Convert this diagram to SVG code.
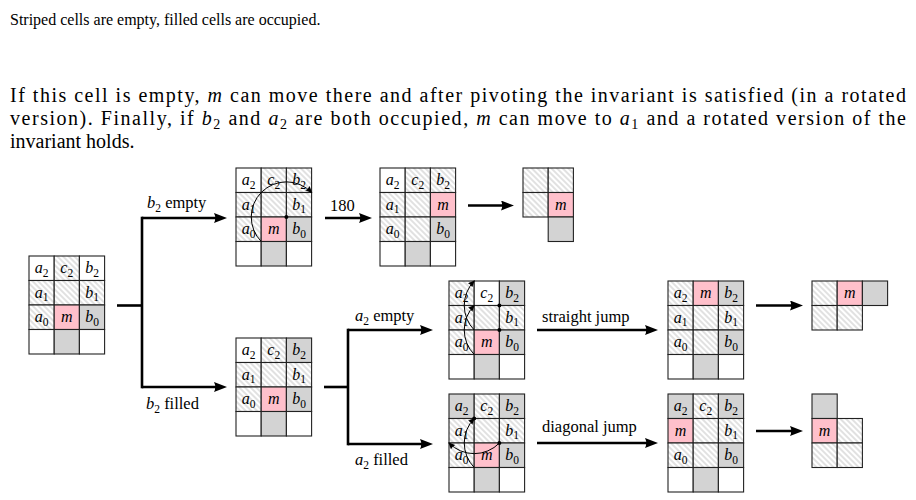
<svg xmlns="http://www.w3.org/2000/svg" xmlns:xlink="http://www.w3.org/1999/xlink" width="916" height="500" viewBox="0 0 916 500">
<defs>
<pattern id="hatch" width="4" height="4" patternUnits="userSpaceOnUse" patternTransform="rotate(-45)">
<rect width="4" height="4" fill="#fff"/>
<line x1="2" y1="0" x2="2" y2="4" stroke="#b4b4b4" stroke-width="0.8"/>
</pattern>
<rect id="cell" width="25.2" height="24.5"/>
<marker id="ah" markerUnits="userSpaceOnUse" viewBox="0 0 13 10" markerWidth="13" markerHeight="10" refX="6" refY="5" orient="auto">
<path d="M0,0 L13,5 L0,10 Q2.5,5 0,0Z" fill="#000"/>
</marker>
<marker id="sa" markerUnits="userSpaceOnUse" viewBox="0 0 7 6" markerWidth="7" markerHeight="6" refX="6" refY="3" orient="auto">
<path d="M0,0 L7,3 L0,6 Q1.5,3 0,0Z" fill="#000"/>
</marker>
</defs>
<style>
.grid{stroke:#222;stroke-width:1.1}
.w{fill:#fff}
.s{fill:url(#hatch)}
.g{fill:#d3d3d3}
.p{fill:#ffc0cb}
.t{font-family:"Liberation Serif","Times New Roman",serif;fill:#000}
.lbl{font-size:16px;text-anchor:middle}
.i{font-style:italic}
.sub{font-size:11.5px}
.body{font-size:20px}
.psub{font-size:14px}
.cap{font-size:16.5px}
.csub{font-size:11.5px}
.arc{fill:none;stroke:#000;stroke-width:1;marker-end:url(#sa)}
.conn{fill:none;stroke:#000;stroke-width:2.6}
.arr{marker-end:url(#ah)}
.dot{fill:#000}
</style>

<g id="text">
<text class="t" font-size="16" x="10" y="25">Striped cells are empty, filled cells are occupied.</text>
<text class="t body" x="10" y="102" textLength="896" lengthAdjust="spacing">If this cell is empty, <tspan class="i">m</tspan> can move there and after pivoting the invariant is satisfied (in a rotated</text>
<text class="t body" x="10" y="125" textLength="896" lengthAdjust="spacing">version). Finally, if <tspan class="i">b</tspan><tspan class="psub" dy="4">2</tspan><tspan dy="-4"> and </tspan><tspan class="i">a</tspan><tspan class="psub" dy="4">2</tspan><tspan dy="-4"> are both occupied, </tspan><tspan class="i">m</tspan> can move to <tspan class="i">a</tspan><tspan class="psub" dy="4">1</tspan><tspan dy="-4"> and a rotated version of the</tspan></text>
<text class="t body" x="10" y="148">invariant holds.</text>
</g>

<g id="grid-start" transform="translate(29,256)">
<g class="grid">
<use href="#cell" class="w" x="0" y="0"/><use href="#cell" class="s" x="25.2" y="0"/><use href="#cell" class="w" x="50.4" y="0"/>
<use href="#cell" class="s" x="0" y="24.5"/><use href="#cell" class="s" x="25.2" y="24.5"/><use href="#cell" class="s" x="50.4" y="24.5"/>
<use href="#cell" class="s" x="0" y="49"/><use href="#cell" class="p" x="25.2" y="49"/><use href="#cell" class="g" x="50.4" y="49"/>
<use href="#cell" class="w" x="0" y="73.5"/><use href="#cell" class="g" x="25.2" y="73.5"/><use href="#cell" class="w" x="50.4" y="73.5"/>
</g>
<g class="t lbl">
<text x="12.6" y="17"><tspan class="i">a</tspan><tspan class="sub" dy="3.5">2</tspan></text>
<text x="37.8" y="17"><tspan class="i">c</tspan><tspan class="sub" dy="3.5">2</tspan></text>
<text x="63" y="17"><tspan class="i">b</tspan><tspan class="sub" dy="3.5">2</tspan></text>
<text x="12.6" y="41.5"><tspan class="i">a</tspan><tspan class="sub" dy="3.5">1</tspan></text>
<text x="63" y="41.5"><tspan class="i">b</tspan><tspan class="sub" dy="3.5">1</tspan></text>
<text x="12.6" y="66"><tspan class="i">a</tspan><tspan class="sub" dy="3.5">0</tspan></text>
<text x="37.8" y="66" class="i">m</text>
<text x="63" y="66"><tspan class="i">b</tspan><tspan class="sub" dy="3.5">0</tspan></text>
</g>
</g>

<g id="grid-b2-empty" transform="translate(236,168)">
<g class="grid">
<use href="#cell" class="w" x="0" y="0"/><use href="#cell" class="s" x="25.2" y="0"/><use href="#cell" class="s" x="50.4" y="0"/>
<use href="#cell" class="s" x="0" y="24.5"/><use href="#cell" class="s" x="25.2" y="24.5"/><use href="#cell" class="s" x="50.4" y="24.5"/>
<use href="#cell" class="s" x="0" y="49"/><use href="#cell" class="p" x="25.2" y="49"/><use href="#cell" class="g" x="50.4" y="49"/>
<use href="#cell" class="w" x="0" y="73.5"/><use href="#cell" class="g" x="25.2" y="73.5"/><use href="#cell" class="w" x="50.4" y="73.5"/>
</g>
<g class="t lbl">
<text x="12.6" y="17"><tspan class="i">a</tspan><tspan class="sub" dy="3.5">2</tspan></text>
<text x="37.8" y="17"><tspan class="i">c</tspan><tspan class="sub" dy="3.5">2</tspan></text>
<text x="63" y="17"><tspan class="i">b</tspan><tspan class="sub" dy="3.5">2</tspan></text>
<text x="12.6" y="41.5"><tspan class="i">a</tspan><tspan class="sub" dy="3.5">1</tspan></text>
<text x="63" y="41.5"><tspan class="i">b</tspan><tspan class="sub" dy="3.5">1</tspan></text>
<text x="12.6" y="66"><tspan class="i">a</tspan><tspan class="sub" dy="3.5">0</tspan></text>
<text x="37.8" y="66" class="i">m</text>
<text x="63" y="66"><tspan class="i">b</tspan><tspan class="sub" dy="3.5">0</tspan></text>
</g>
<path class="arc" d="M25.2,73.5 A35.15,35.15 0 0 1 25.55,24.15 A35.15,35.15 0 0 1 75.6,24.5"/>
<circle class="dot" cx="50.4" cy="49" r="2"/>
</g>

<g id="grid-rotated" transform="translate(380,168)">
<g class="grid">
<use href="#cell" class="w" x="0" y="0"/><use href="#cell" class="s" x="25.2" y="0"/><use href="#cell" class="s" x="50.4" y="0"/>
<use href="#cell" class="s" x="0" y="24.5"/><use href="#cell" class="s" x="25.2" y="24.5"/><use href="#cell" class="p" x="50.4" y="24.5"/>
<use href="#cell" class="s" x="0" y="49"/><use href="#cell" class="s" x="25.2" y="49"/><use href="#cell" class="g" x="50.4" y="49"/>
<use href="#cell" class="w" x="0" y="73.5"/><use href="#cell" class="g" x="25.2" y="73.5"/><use href="#cell" class="w" x="50.4" y="73.5"/>
</g>
<g class="t lbl">
<text x="12.6" y="17"><tspan class="i">a</tspan><tspan class="sub" dy="3.5">2</tspan></text>
<text x="37.8" y="17"><tspan class="i">c</tspan><tspan class="sub" dy="3.5">2</tspan></text>
<text x="63" y="17"><tspan class="i">b</tspan><tspan class="sub" dy="3.5">2</tspan></text>
<text x="12.6" y="41.5"><tspan class="i">a</tspan><tspan class="sub" dy="3.5">1</tspan></text>
<text x="63" y="41.5" class="i">m</text>
<text x="12.6" y="66"><tspan class="i">a</tspan><tspan class="sub" dy="3.5">0</tspan></text>
<text x="63" y="66"><tspan class="i">b</tspan><tspan class="sub" dy="3.5">0</tspan></text>
</g>
</g>

<g id="shape-1" transform="translate(523,168)">
<g class="grid">
<use href="#cell" class="s" x="0" y="0"/><use href="#cell" class="s" x="25.2" y="0"/>
<use href="#cell" class="s" x="0" y="24.5"/><use href="#cell" class="p" x="25.2" y="24.5"/>
<use href="#cell" class="g" x="25.2" y="49"/>
</g>
<text class="t lbl i" x="37.8" y="41.5">m</text>
</g>

<g id="grid-b2-filled" transform="translate(236,338)">
<g class="grid">
<use href="#cell" class="w" x="0" y="0"/><use href="#cell" class="s" x="25.2" y="0"/><use href="#cell" class="g" x="50.4" y="0"/>
<use href="#cell" class="s" x="0" y="24.5"/><use href="#cell" class="s" x="25.2" y="24.5"/><use href="#cell" class="s" x="50.4" y="24.5"/>
<use href="#cell" class="s" x="0" y="49"/><use href="#cell" class="p" x="25.2" y="49"/><use href="#cell" class="g" x="50.4" y="49"/>
<use href="#cell" class="w" x="0" y="73.5"/><use href="#cell" class="g" x="25.2" y="73.5"/><use href="#cell" class="w" x="50.4" y="73.5"/>
</g>
<g class="t lbl">
<text x="12.6" y="17"><tspan class="i">a</tspan><tspan class="sub" dy="3.5">2</tspan></text>
<text x="37.8" y="17"><tspan class="i">c</tspan><tspan class="sub" dy="3.5">2</tspan></text>
<text x="63" y="17"><tspan class="i">b</tspan><tspan class="sub" dy="3.5">2</tspan></text>
<text x="12.6" y="41.5"><tspan class="i">a</tspan><tspan class="sub" dy="3.5">1</tspan></text>
<text x="63" y="41.5"><tspan class="i">b</tspan><tspan class="sub" dy="3.5">1</tspan></text>
<text x="12.6" y="66"><tspan class="i">a</tspan><tspan class="sub" dy="3.5">0</tspan></text>
<text x="37.8" y="66" class="i">m</text>
<text x="63" y="66"><tspan class="i">b</tspan><tspan class="sub" dy="3.5">0</tspan></text>
</g>
</g>

<g id="grid-a2-empty" transform="translate(449,281)">
<g class="grid">
<use href="#cell" class="s" x="0" y="0"/><use href="#cell" class="w" x="25.2" y="0"/><use href="#cell" class="g" x="50.4" y="0"/>
<use href="#cell" class="s" x="0" y="24.5"/><use href="#cell" class="s" x="25.2" y="24.5"/><use href="#cell" class="s" x="50.4" y="24.5"/>
<use href="#cell" class="s" x="0" y="49"/><use href="#cell" class="p" x="25.2" y="49"/><use href="#cell" class="g" x="50.4" y="49"/>
<use href="#cell" class="w" x="0" y="73.5"/><use href="#cell" class="g" x="25.2" y="73.5"/><use href="#cell" class="w" x="50.4" y="73.5"/>
</g>
<g class="t lbl">
<text x="12.6" y="17"><tspan class="i">a</tspan><tspan class="sub" dy="3.5">2</tspan></text>
<text x="37.8" y="17"><tspan class="i">c</tspan><tspan class="sub" dy="3.5">2</tspan></text>
<text x="63" y="17"><tspan class="i">b</tspan><tspan class="sub" dy="3.5">2</tspan></text>
<text x="12.6" y="41.5"><tspan class="i">a</tspan><tspan class="sub" dy="3.5">1</tspan></text>
<text x="63" y="41.5"><tspan class="i">b</tspan><tspan class="sub" dy="3.5">1</tspan></text>
<text x="12.6" y="66"><tspan class="i">a</tspan><tspan class="sub" dy="3.5">0</tspan></text>
<text x="37.8" y="66" class="i">m</text>
<text x="63" y="66"><tspan class="i">b</tspan><tspan class="sub" dy="3.5">0</tspan></text>
</g>
<path class="arc" d="M25.2,73.5 A35.15,35.15 0 0 1 25.2,24.5"/>
<path class="arc" d="M25.2,49 A35.15,35.15 0 0 1 25.2,0"/>
<circle class="dot" cx="50.4" cy="49" r="2"/>
<circle class="dot" cx="50.4" cy="24.5" r="2"/>
</g>

<g id="grid-a2-filled" transform="translate(449,394)">
<g class="grid">
<use href="#cell" class="g" x="0" y="0"/><use href="#cell" class="s" x="25.2" y="0"/><use href="#cell" class="g" x="50.4" y="0"/>
<use href="#cell" class="s" x="0" y="24.5"/><use href="#cell" class="s" x="25.2" y="24.5"/><use href="#cell" class="s" x="50.4" y="24.5"/>
<use href="#cell" class="s" x="0" y="49"/><use href="#cell" class="p" x="25.2" y="49"/><use href="#cell" class="g" x="50.4" y="49"/>
<use href="#cell" class="w" x="0" y="73.5"/><use href="#cell" class="g" x="25.2" y="73.5"/><use href="#cell" class="w" x="50.4" y="73.5"/>
</g>
<g class="t lbl">
<text x="12.6" y="17"><tspan class="i">a</tspan><tspan class="sub" dy="3.5">2</tspan></text>
<text x="37.8" y="17"><tspan class="i">c</tspan><tspan class="sub" dy="3.5">2</tspan></text>
<text x="63" y="17"><tspan class="i">b</tspan><tspan class="sub" dy="3.5">2</tspan></text>
<text x="12.6" y="41.5"><tspan class="i">a</tspan><tspan class="sub" dy="3.5">1</tspan></text>
<text x="63" y="41.5"><tspan class="i">b</tspan><tspan class="sub" dy="3.5">1</tspan></text>
<text x="12.6" y="66"><tspan class="i">a</tspan><tspan class="sub" dy="3.5">0</tspan></text>
<text x="37.8" y="66" class="i">m</text>
<text x="63" y="66"><tspan class="i">b</tspan><tspan class="sub" dy="3.5">0</tspan></text>
</g>
<path class="arc" d="M25.2,73.5 A35.15,35.15 0 0 1 25.2,24.5"/>
<path class="arc" d="M50.4,49 A35.15,35.15 0 0 1 0,49"/>
<circle class="dot" cx="50.4" cy="49" r="2"/>
<circle class="dot" cx="25.2" cy="24.5" r="2"/>
</g>

<g id="grid-straight" transform="translate(668,281)">
<g class="grid">
<use href="#cell" class="s" x="0" y="0"/><use href="#cell" class="p" x="25.2" y="0"/><use href="#cell" class="g" x="50.4" y="0"/>
<use href="#cell" class="s" x="0" y="24.5"/><use href="#cell" class="s" x="25.2" y="24.5"/><use href="#cell" class="s" x="50.4" y="24.5"/>
<use href="#cell" class="s" x="0" y="49"/><use href="#cell" class="s" x="25.2" y="49"/><use href="#cell" class="g" x="50.4" y="49"/>
<use href="#cell" class="w" x="0" y="73.5"/><use href="#cell" class="g" x="25.2" y="73.5"/><use href="#cell" class="w" x="50.4" y="73.5"/>
</g>
<g class="t lbl">
<text x="12.6" y="17"><tspan class="i">a</tspan><tspan class="sub" dy="3.5">2</tspan></text>
<text x="37.8" y="17" class="i">m</text>
<text x="63" y="17"><tspan class="i">b</tspan><tspan class="sub" dy="3.5">2</tspan></text>
<text x="12.6" y="41.5"><tspan class="i">a</tspan><tspan class="sub" dy="3.5">1</tspan></text>
<text x="63" y="41.5"><tspan class="i">b</tspan><tspan class="sub" dy="3.5">1</tspan></text>
<text x="12.6" y="66"><tspan class="i">a</tspan><tspan class="sub" dy="3.5">0</tspan></text>
<text x="63" y="66"><tspan class="i">b</tspan><tspan class="sub" dy="3.5">0</tspan></text>
</g>
</g>

<g id="shape-2" transform="translate(812,281)">
<g class="grid">
<use href="#cell" class="s" x="0" y="0"/><use href="#cell" class="p" x="25.2" y="0"/><use href="#cell" class="g" x="50.4" y="0"/>
<use href="#cell" class="s" x="0" y="24.5"/><use href="#cell" class="s" x="25.2" y="24.5"/>
</g>
<text class="t lbl i" x="37.8" y="17">m</text>
</g>

<g id="grid-diagonal" transform="translate(668,394)">
<g class="grid">
<use href="#cell" class="g" x="0" y="0"/><use href="#cell" class="s" x="25.2" y="0"/><use href="#cell" class="g" x="50.4" y="0"/>
<use href="#cell" class="p" x="0" y="24.5"/><use href="#cell" class="s" x="25.2" y="24.5"/><use href="#cell" class="s" x="50.4" y="24.5"/>
<use href="#cell" class="s" x="0" y="49"/><use href="#cell" class="s" x="25.2" y="49"/><use href="#cell" class="g" x="50.4" y="49"/>
<use href="#cell" class="w" x="0" y="73.5"/><use href="#cell" class="g" x="25.2" y="73.5"/><use href="#cell" class="w" x="50.4" y="73.5"/>
</g>
<g class="t lbl">
<text x="12.6" y="17"><tspan class="i">a</tspan><tspan class="sub" dy="3.5">2</tspan></text>
<text x="37.8" y="17"><tspan class="i">c</tspan><tspan class="sub" dy="3.5">2</tspan></text>
<text x="63" y="17"><tspan class="i">b</tspan><tspan class="sub" dy="3.5">2</tspan></text>
<text x="12.6" y="41.5" class="i">m</text>
<text x="63" y="41.5"><tspan class="i">b</tspan><tspan class="sub" dy="3.5">1</tspan></text>
<text x="12.6" y="66"><tspan class="i">a</tspan><tspan class="sub" dy="3.5">0</tspan></text>
<text x="63" y="66"><tspan class="i">b</tspan><tspan class="sub" dy="3.5">0</tspan></text>
</g>
</g>

<g id="shape-3" transform="translate(812,394)">
<g class="grid">
<use href="#cell" class="g" x="0" y="0"/>
<use href="#cell" class="p" x="0" y="24.5"/><use href="#cell" class="s" x="25.2" y="24.5"/>
<use href="#cell" class="s" x="0" y="49"/><use href="#cell" class="s" x="25.2" y="49"/>
</g>
<text class="t lbl i" x="12.6" y="41.5">m</text>
</g>

<g id="connectors">
<path class="conn" d="M117,305.5 H142"/>
<path class="conn" d="M142,216.7 V388.3"/>
<path class="conn arr" d="M142,218 H220"/>
<path class="conn arr" d="M142,387 H220"/>
<path class="conn arr" d="M325,218 H365"/>
<path class="conn arr" d="M468,205.5 H507"/>
<path class="conn" d="M324,387 H348"/>
<path class="conn" d="M348,328.7 V445.3"/>
<path class="conn arr" d="M348,330 H426"/>
<path class="conn arr" d="M348,444 H426"/>
<path class="conn arr" d="M537,330 H651"/>
<path class="conn arr" d="M537,443 H651"/>
<path class="conn arr" d="M756,305.5 H796"/>
<path class="conn arr" d="M756,431 H796"/>
</g>

<g id="connector-labels" class="t cap">
<text x="147" y="208"><tspan class="i">b</tspan><tspan class="csub" dy="3.5">2</tspan><tspan dy="-3.5"> empty</tspan></text>
<text x="330" y="211">180</text>
<text x="146" y="409"><tspan class="i">b</tspan><tspan class="csub" dy="3.5">2</tspan><tspan dy="-3.5"> filled</tspan></text>
<text x="355" y="321"><tspan class="i">a</tspan><tspan class="csub" dy="3.5">2</tspan><tspan dy="-3.5"> empty</tspan></text>
<text x="355" y="465"><tspan class="i">a</tspan><tspan class="csub" dy="3.5">2</tspan><tspan dy="-3.5"> filled</tspan></text>
<text x="542" y="322">straight jump</text>
<text x="542" y="432">diagonal jump</text>
</g>
</svg>
